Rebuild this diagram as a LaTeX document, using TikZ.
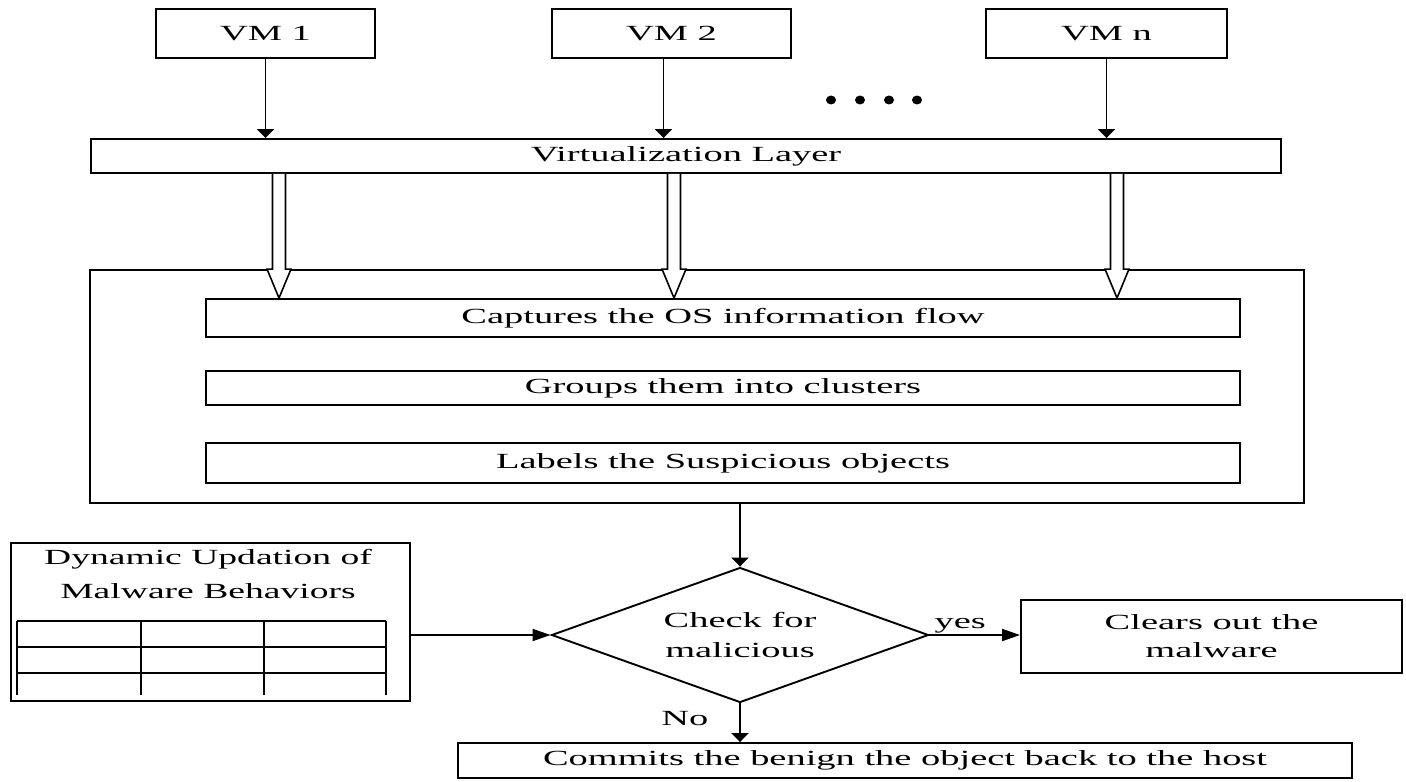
\documentclass[tikz,border=0pt]{standalone}
\usepackage{fontspec}
\setmainfont{Liberation Serif}
\usepackage{graphicx}
\usetikzlibrary{shapes.geometric,arrows.meta,calc}

% wide-set text
\newcommand{\wt}[1]{\scalebox{1.78}[1]{#1}}
% rectangle node from corner values: name, x1, y1, x2, y2, text
\newcommand{\mkbox}[6]{%
  \node[box, minimum width={(#4-#2)*0.5pt}, minimum height={(#5-#3)*0.5pt}]
    (#1) at ({(#2+#4)/2},{(#3+#5)/2}) {#6};}

\begin{document}
\begin{tikzpicture}[x=0.5pt, y=-0.5pt, line width=0.95pt,
  box/.style={draw, rectangle, inner sep=0pt, align=center,
    font=\fontsize{10.8}{14}\selectfont},
  lbl/.style={font=\fontsize{10.8}{13}\selectfont},
  vhead/.style={-{Triangle[length=4.5pt,width=8.5pt]}},
  hhead/.style={-{Triangle[length=9pt,width=6pt]}},
  hollow/.style={draw, fill=white, line width=0.8pt},
]
\useasboundingbox (0,0) rectangle (1406,781);

% virtual machines
\mkbox{vm1}{156}{9}{375}{58}{\wt{VM 1}}
\mkbox{vm2}{552}{9}{791}{58}{\wt{VM 2}}
\mkbox{vmn}{986}{9}{1227}{58}{\wt{VM n}}
\foreach \x in {831,860,889,917} \fill (\x,100) ellipse (5 and 4.5);

% virtualization layer
\mkbox{virt}{91}{139}{1281}{173}{\wt{Virtualization Layer}}
\draw[vhead] (vm1.south) -- (vm1.south |- virt.north);
\draw[vhead] ([xshift=-4pt]vm2.south) -- ([xshift=-4pt]vm2.south |- virt.north);
\draw[vhead] (vmn.south) -- (vmn.south |- virt.north);

% monitoring block
\mkbox{outer}{90}{270}{1304}{503}{}
\mkbox{cap}{206}{299}{1240}{337}{\wt{Captures the OS information flow}}
\mkbox{grp}{206}{371}{1240}{405}{\wt{Groups them into clusters}}
\mkbox{lab}{206}{443}{1240}{483}{\wt{Labels the Suspicious objects}}

% hollow arrows into the monitoring block
\foreach \x [count=\i] in {279,674,1117}{
  \coordinate (hx\i) at (\x,0);
  \path[hollow]
    ([xshift=-3.25pt]virt.south -| hx\i) -- ([xshift=-3.25pt]outer.north -| hx\i)
    -- ([xshift=-6pt]outer.north -| hx\i) -- (cap.north -| hx\i)
    -- ([xshift=6pt]outer.north -| hx\i) -- ([xshift=3.25pt]outer.north -| hx\i)
    -- ([xshift=3.25pt]virt.south -| hx\i);
}

% decision
\node[diamond, draw, aspect=2.8, minimum width=188.5pt, minimum height=67.5pt,
  inner sep=0pt, align=center, font=\fontsize{10.8}{15}\selectfont]
  (diam) at (740,635) {\wt{Check for}\\\wt{malicious}};
\draw[vhead] (diam.north |- outer.south) -- (diam.north);

\mkbox{clr}{1021}{600}{1402}{673}{\wt{Clears out the}\\\wt{malware}}
\draw[hhead] (diam.east) -- node[pos=0.34, above, inner sep=0.5pt, lbl]
  (yes) {\wt{yes}} (clr.west |- diam.east);

\mkbox{host}{458}{743}{1352}{778}{\wt{Commits the benign the object back to the host}}
\draw[vhead] (diam.south) -- node[pos=0.38, left, xshift=-12pt, lbl]
  (no) {\wt{No}} (diam.south |- host.north);

% behaviour store
\mkbox{dyn}{11}{543}{410}{701}{}
\node[align=center, font=\fontsize{10.8}{17}\selectfont] (dyntxt) at (208,574)
  {\scalebox{1.74}[1]{Dynamic Updation of}\\\scalebox{1.74}[1]{Malware Behaviors}};
\foreach \y in {621,647,673} \draw (17,\y) -- (386,\y);
\foreach \x in {17,141,264,386} \draw (\x,621) -- (\x,695);
\draw[hhead] (dyn.east |- diam.west) -- (diam.west);
\end{tikzpicture}
\end{document}
